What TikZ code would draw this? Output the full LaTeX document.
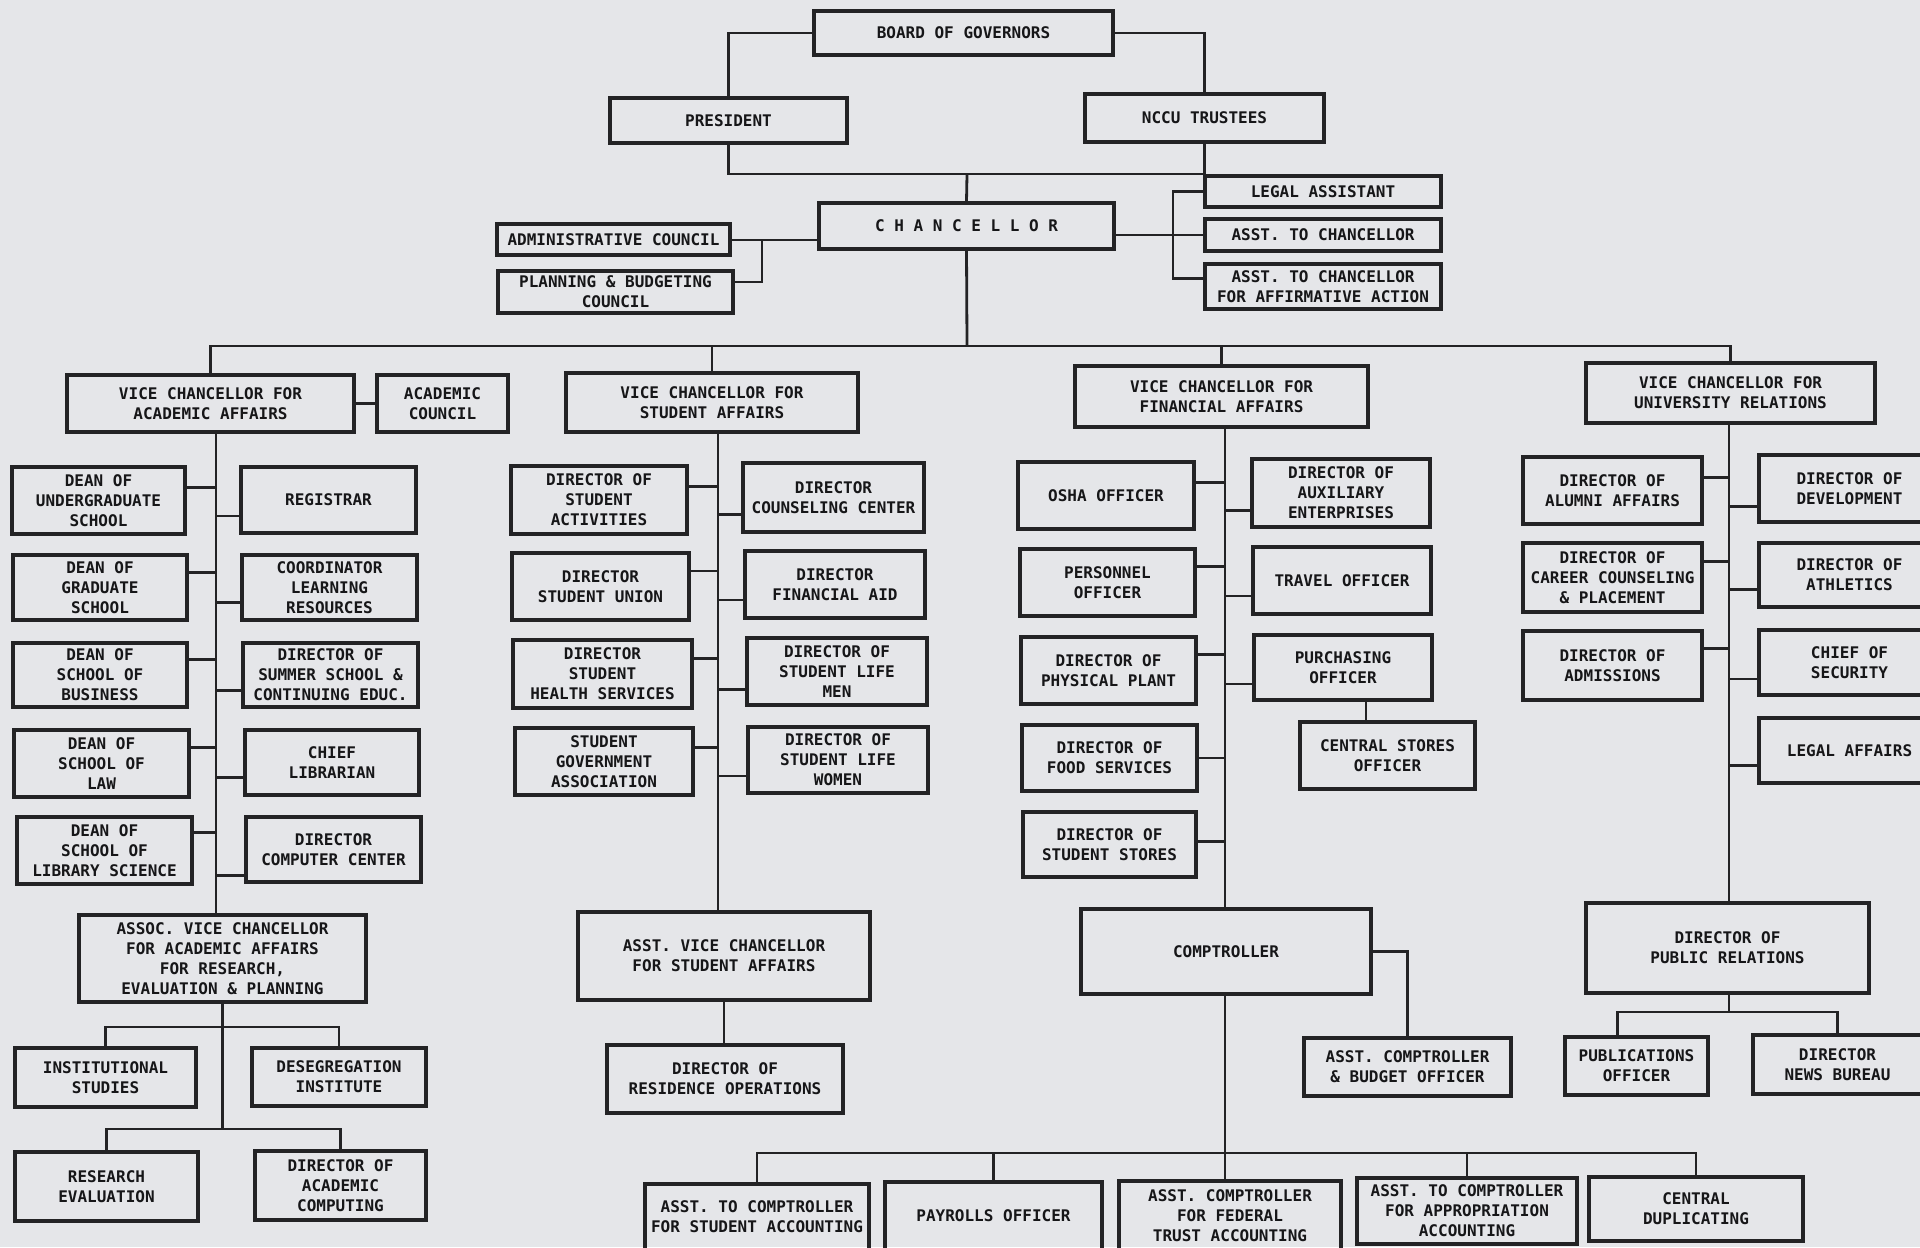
\documentclass[tikz,border=0pt]{standalone}
\usepackage{fontspec}
\usetikzlibrary{calc}
\newfontfamily\tw{DejaVu Sans Mono}
\definecolor{bgc}{RGB}{229,230,233}
\definecolor{linec}{RGB}{35,35,37}
\definecolor{textc}{RGB}{22,22,24}
\tikzset{
  box/.style={draw=linec, line width=1.7pt, align=center, inner sep=0pt,
    font=\tw\bfseries\fontsize{8}{10}\selectfont, text=textc},
  conn/.style={draw=linec, line width=1.4pt}
}
\newcommand{\bx}[6]{%
  \pgfmathsetmacro{\bxcx}{(#2+#4)/2}%
  \pgfmathsetmacro{\bxcy}{(#3+#5)/2}%
  \pgfmathsetmacro{\bxw}{(#4-#2)/2}%
  \pgfmathsetmacro{\bxh}{(#5-#3)/2}%
  \node[box,minimum width=\bxw pt,minimum height=\bxh pt] (#1) at (\bxcx,\bxcy) {#6};}
\newcommand{\lstub}[3]{\path ($(#1.north east)!#2!(#1.south east)$) coordinate (stubtmp); \draw[conn] (stubtmp) -- (stubtmp -| #3);}
\newcommand{\rstub}[3]{\path ($(#1.north west)!#2!(#1.south west)$) coordinate (stubtmp); \draw[conn] (stubtmp) -- (stubtmp -| #3);}
\begin{document}
\begin{tikzpicture}[x=0.5pt,y=-0.5pt]
\useasboundingbox (0,0) rectangle (1920,1247);
\fill[bgc] (0,0) rectangle (1920,1247);
\clip (0,0) rectangle (1920,1247);

% ---- top
\bx{board}{814}{11}{1113}{55}{BOARD OF GOVERNORS}
\bx{pres}{610}{98}{847}{143}{PRESIDENT}
\bx{trust}{1085}{94}{1324}{142}{NCCU TRUSTEES}
\bx{chan}{819}{203}{1114}{249}{C H A N C E L L O R}
\bx{admin}{497}{224}{730}{255}{ADMINISTRATIVE COUNCIL}
\bx{plan}{498}{271}{733}{313}{PLANNING \& BUDGETING\\COUNCIL}
\bx{legal}{1205}{176}{1441}{207}{LEGAL ASSISTANT}
\bx{asstc}{1205}{219}{1441}{251}{ASST. TO CHANCELLOR}
\bx{affirm}{1205}{264}{1441}{309}{ASST. TO CHANCELLOR\\FOR AFFIRMATIVE ACTION}

% ---- vice chancellors
\bx{vca}{67}{375}{354}{432}{VICE CHANCELLOR FOR\\ACADEMIC AFFAIRS}
\bx{acc}{377}{375}{508}{432}{ACADEMIC\\COUNCIL}
\bx{vcs}{566}{373}{858}{432}{VICE CHANCELLOR FOR\\STUDENT AFFAIRS}
\bx{vcf}{1075}{366}{1368}{427}{VICE CHANCELLOR FOR\\FINANCIAL AFFAIRS}
\bx{vcu}{1586}{363}{1875}{423}{VICE CHANCELLOR FOR\\UNIVERSITY RELATIONS}

% ---- academic
\bx{dug}{12}{467}{185}{534}{DEAN OF\\UNDERGRADUATE\\SCHOOL}
\bx{reg}{241}{467}{416}{533}{REGISTRAR}
\bx{dgr}{13}{555}{187}{620}{DEAN OF\\GRADUATE\\SCHOOL}
\bx{clr}{242}{555}{417}{620}{COORDINATOR\\LEARNING\\RESOURCES}
\bx{dbu}{13}{643}{187}{707}{DEAN OF\\SCHOOL OF\\BUSINESS}
\bx{dss}{243}{643}{418}{707}{DIRECTOR OF\\SUMMER SCHOOL \&\\CONTINUING EDUC.}
\bx{dlaw}{14}{730}{189}{797}{DEAN OF\\SCHOOL OF\\LAW}
\bx{clib}{245}{730}{419}{795}{CHIEF\\LIBRARIAN}
\bx{dls}{17}{817}{192}{884}{DEAN OF\\SCHOOL OF\\LIBRARY SCIENCE}
\bx{dcc}{246}{817}{421}{882}{DIRECTOR\\COMPUTER CENTER}
\bx{assoc}{79}{915}{366}{1002}{ASSOC. VICE CHANCELLOR\\FOR ACADEMIC AFFAIRS\\FOR RESEARCH,\\EVALUATION \& PLANNING}
\bx{inst}{15}{1048}{196}{1107}{INSTITUTIONAL\\STUDIES}
\bx{deseg}{252}{1048}{426}{1106}{DESEGREGATION\\INSTITUTE}
\bx{resev}{15}{1152}{198}{1221}{RESEARCH\\EVALUATION}
\bx{acomp}{255}{1151}{426}{1220}{DIRECTOR OF\\ACADEMIC\\COMPUTING}

% ---- student affairs
\bx{dsa}{511}{466}{687}{534}{DIRECTOR OF\\STUDENT\\ACTIVITIES}
\bx{dcoun}{743}{463}{924}{532}{DIRECTOR\\COUNSELING CENTER}
\bx{dsu}{512}{553}{689}{620}{DIRECTOR\\STUDENT UNION}
\bx{dfa}{745}{551}{925}{618}{DIRECTOR\\FINANCIAL AID}
\bx{dhs}{513}{640}{692}{708}{DIRECTOR\\STUDENT\\HEALTH SERVICES}
\bx{dslm}{747}{638}{927}{705}{DIRECTOR OF\\STUDENT LIFE\\MEN}
\bx{sga}{515}{728}{693}{795}{STUDENT\\GOVERNMENT\\ASSOCIATION}
\bx{dslw}{748}{727}{928}{793}{DIRECTOR OF\\STUDENT LIFE\\WOMEN}
\bx{avcs}{578}{912}{870}{1000}{ASST. VICE CHANCELLOR\\FOR STUDENT AFFAIRS}
\bx{dro}{607}{1045}{843}{1113}{DIRECTOR OF\\RESIDENCE OPERATIONS}

% ---- financial affairs
\bx{osha}{1018}{462}{1194}{529}{OSHA OFFICER}
\bx{aux}{1252}{459}{1430}{527}{DIRECTOR OF\\AUXILIARY\\ENTERPRISES}
\bx{pers}{1020}{549}{1195}{616}{PERSONNEL\\OFFICER}
\bx{trav}{1253}{547}{1431}{614}{TRAVEL OFFICER}
\bx{phys}{1021}{637}{1196}{704}{DIRECTOR OF\\PHYSICAL PLANT}
\bx{purch}{1254}{635}{1432}{700}{PURCHASING\\OFFICER}
\bx{cso}{1300}{722}{1475}{789}{CENTRAL STORES\\OFFICER}
\bx{food}{1022}{725}{1197}{791}{DIRECTOR OF\\FOOD SERVICES}
\bx{sst}{1023}{812}{1196}{877}{DIRECTOR OF\\STUDENT STORES}
\bx{comp}{1081}{909}{1371}{994}{COMPTROLLER}
\bx{budg}{1304}{1038}{1511}{1096}{ASST. COMPTROLLER\\\& BUDGET OFFICER}
\bx{sacc}{645}{1184}{869}{1250}{ASST. TO COMPTROLLER\\FOR STUDENT ACCOUNTING}
\bx{pay}{885}{1182}{1102}{1250}{PAYROLLS OFFICER}
\bx{fed}{1119}{1181}{1341}{1250}{ASST. COMPTROLLER\\FOR FEDERAL\\TRUST ACCOUNTING}
\bx{app}{1357}{1178}{1577}{1244}{ASST. TO COMPTROLLER\\FOR APPROPRIATION\\ACCOUNTING}
\bx{dup}{1589}{1177}{1803}{1241}{CENTRAL\\DUPLICATING}

% ---- university relations
\bx{alum}{1523}{457}{1702}{524}{DIRECTOR OF\\ALUMNI AFFAIRS}
\bx{dev}{1759}{455}{1940}{522}{DIRECTOR OF\\DEVELOPMENT}
\bx{car}{1523}{543}{1702}{612}{DIRECTOR OF\\CAREER COUNSELING\\\& PLACEMENT}
\bx{ath}{1759}{543}{1940}{607}{DIRECTOR OF\\ATHLETICS}
\bx{adm}{1523}{631}{1702}{700}{DIRECTOR OF\\ADMISSIONS}
\bx{sec}{1759}{630}{1940}{695}{CHIEF OF\\SECURITY}
\bx{lega}{1759}{718}{1940}{783}{LEGAL AFFAIRS}
\bx{pr}{1586}{903}{1869}{993}{DIRECTOR OF\\PUBLIC RELATIONS}
\bx{pub}{1565}{1037}{1708}{1095}{PUBLICATIONS\\OFFICER}
\bx{news}{1753}{1035}{1922}{1094}{DIRECTOR\\NEWS BUREAU}

% ================= connectors
% top
\draw[conn] (board.west) -| (pres.north);
\draw[conn] (board.east) -| (trust.north);
\coordinate (tb) at (967,174);
\draw[conn] (pres.south) |- (tb) -| (trust.south);
\draw[conn] (tb) -- (chan.north);
% chancellor left
\coordinate (cl) at ([yshift=-7pt]chan.west);
\draw[conn] (cl) -- (cl -| admin.east);
\coordinate (pj) at (762,240);
\coordinate (pl) at ([yshift=5pt]plan.east);
\draw[conn] (pl) -| (pj);
% chancellor right
\draw[conn] (chan.east |- asstc.west) -- (asstc.west);
\coordinate (rj) at (1173,0);
\coordinate (af) at ([yshift=4pt]affirm.west);
\draw[conn] (legal.west) -| (rj |- af) -- (af);
% main bus
\coordinate (mb) at (967,346);
\draw[conn] (chan.south) -- (mb);
\draw[conn] (vca.north) |- (mb) -| (vcu.north);
\draw[conn] (vcs.north) -- (vcs.north |- mb);
\draw[conn] (vcf.north) -- (vcf.north |- mb);
\draw[conn] (vca.east) -- (acc.west);

% academic
\coordinate (sa) at (216,0);
\draw[conn] (vca.south -| sa) -- (assoc.north -| sa);
\lstub{dug}{0.31}{sa} \rstub{reg}{0.73}{sa}
\lstub{dgr}{0.28}{sa} \rstub{clr}{0.72}{sa}
\lstub{dbu}{0.27}{sa} \rstub{dss}{0.73}{sa}
\lstub{dlaw}{0.27}{sa} \rstub{clib}{0.72}{sa}
\lstub{dls}{0.24}{sa} \rstub{dcc}{0.88}{sa}
\coordinate (ab1) at (221,1027);
\coordinate (ab2) at (221,1129);
\draw[conn] (assoc.south) -- (assoc.south |- ab2);
\draw[conn] (inst.north) |- (ab1) -| (deseg.north);
\draw[conn] (resev.north) |- (ab2) -| (acomp.north);

% student affairs
\coordinate (ss) at (718,0);
\draw[conn] (vcs.south -| ss) -- (avcs.north -| ss);
\lstub{dsa}{0.31}{ss} \rstub{dcoun}{0.74}{ss}
\lstub{dsu}{0.28}{ss} \rstub{dfa}{0.72}{ss}
\lstub{dhs}{0.28}{ss} \rstub{dslm}{0.75}{ss}
\lstub{sga}{0.30}{ss} \rstub{dslw}{0.73}{ss}
\draw[conn] (avcs.south) -- (avcs.south |- dro.north);

% financial affairs
\coordinate (sf) at (1225,0);
\draw[conn] (vcf.south -| sf) -- (comp.north -| sf);
\lstub{osha}{0.31}{sf} \rstub{aux}{0.75}{sf}
\lstub{pers}{0.27}{sf} \rstub{trav}{0.72}{sf}
\lstub{phys}{0.27}{sf} \rstub{purch}{0.74}{sf}
\lstub{food}{0.50}{sf}
\lstub{sst}{0.46}{sf}
\coordinate (pc) at ([xshift=11.5pt]purch.south);
\draw[conn] (pc) -- (pc |- cso.north);
\draw[conn] (comp.east) -| (budg.north);
\draw[conn] (comp.south -| sf) -- (fed.north -| sf);
\coordinate (bb) at (1225,1153);
\draw[conn] (sacc.north) |- (bb) -| (dup.north);
\draw[conn] (pay.north) -- (pay.north |- bb);
\draw[conn] (app.north) -- (app.north |- bb);

% university relations
\coordinate (su) at (1729,0);
\draw[conn] (vcu.south -| su) -- (pr.north -| su);
\lstub{alum}{0.31}{su} \rstub{dev}{0.75}{su}
\lstub{car}{0.28}{su} \rstub{ath}{0.72}{su}
\lstub{adm}{0.26}{su} \rstub{sec}{0.74}{su}
\rstub{lega}{0.72}{su}
\coordinate (pb) at (1729,1012);
\draw[conn] (pr.south -| su) -- (pb);
\coordinate (pubt) at ([xshift=-9.5pt]pub.north);
\draw[conn] (pubt) |- (pb) -| (news.north);
\end{tikzpicture}
\end{document}
